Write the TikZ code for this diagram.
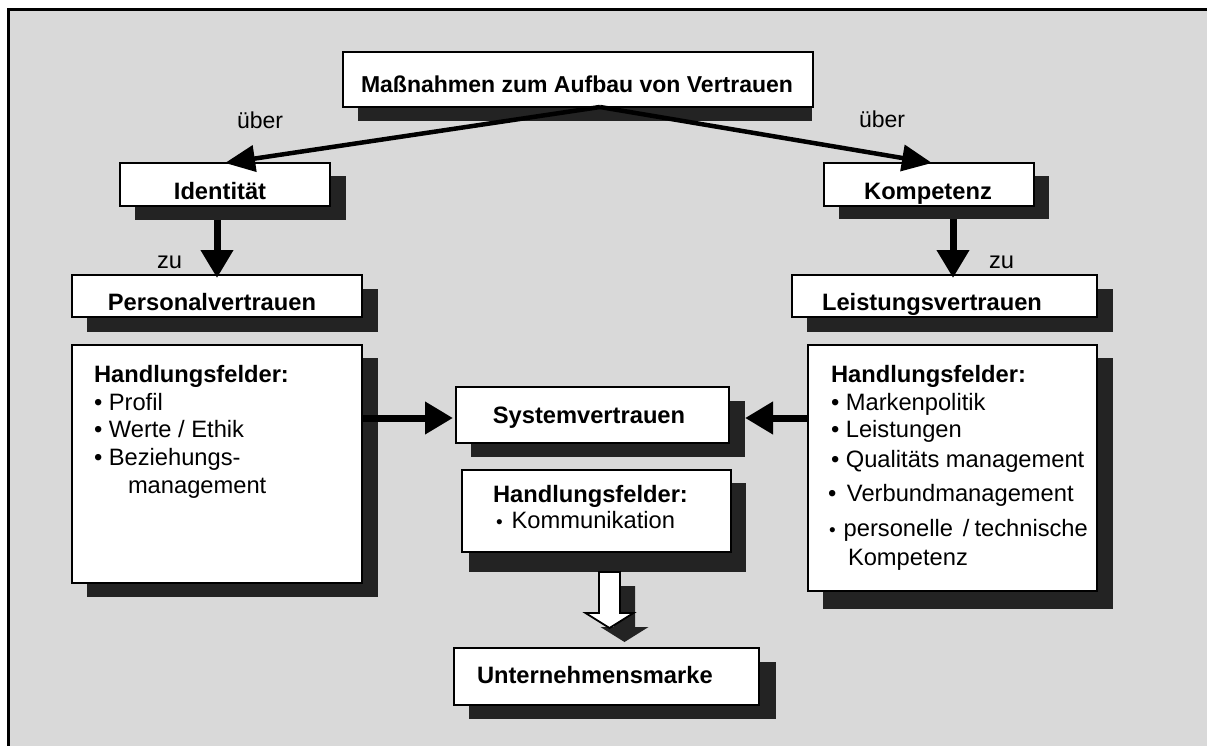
\documentclass[tikz,border=0pt]{standalone}
\usepackage{fontspec}
\setmainfont{Liberation Sans}
\usetikzlibrary{arrows.meta,calc}
\definecolor{bgc}{HTML}{D9D9D9}
\definecolor{shc}{HTML}{232323}
\newcommand\smallbullet{{\fontsize{19}{19}\selectfont •}}
\newcommand\shbox[9]{%
  \node[shadowbox, minimum width={#8-#6}, minimum height={#9-#7}] (#1S) at ({(#6+#8)/2},{(#7+#9)/2}) {};
  \node[box, minimum width={#4-#2}, minimum height={#5-#3}] (#1) at ({(#2+#4)/2},{(#3+#5)/2}) {};}
\tikzset{
  box/.style={draw=black, line width=1.8pt, fill=white, rectangle, inner sep=0pt, outer sep=0pt},
  shadowbox/.style={fill=shc, draw=none, rectangle, inner sep=0pt, outer sep=0pt},
  txt/.style={inner sep=0pt, outer sep=0pt, font=\fontsize{23.7}{27}\selectfont},
  btxt/.style={inner sep=0pt, outer sep=0pt, font=\fontsize{23.7}{27}\selectfont\bfseries},
  thinarrow/.style={line width=4.5pt, -{Triangle[length=30pt,width=26pt]}},
  thickarrow/.style={line width=7pt, -{Triangle[length=28pt,width=31pt]}},
  hollow/.style={draw=black, line width=1.8pt, fill=white, line join=miter},
  hollowshadow/.style={fill=shc, draw=none},
}
\begin{document}
\begin{tikzpicture}[x=1pt,y=-1pt]
\useasboundingbox (0,0) rectangle (1207,746);
\fill[white] (0,0) rectangle (1207,746);
\fill[bgc] (8.7,9.5) rectangle (1207,746);
\draw[line width=2.7pt, line cap=butt] (8.7,746) -- (8.7,9.5) -- (1207,9.5);

% boxes: name, box x1 y1 x2 y2, shadow x1 y1 x2 y2
\shbox{top}{343}{52}{813}{107}{358}{66}{812}{121}
\shbox{ident}{120}{163}{330}{206}{135}{176}{346}{220}
\shbox{komp}{824}{163}{1034}{206}{839}{176}{1049}{219}
\shbox{pers}{72}{275}{362}{317}{87}{289}{378}{332}
\shbox{leist}{792}{275}{1097}{317}{807}{289}{1113}{332}
\shbox{lbox}{72}{345}{362}{583}{87}{358}{378}{597}
\shbox{rbox}{808}{345}{1097}{591}{823}{358}{1113}{609}
\shbox{sys}{456}{387}{729}{443}{471}{401}{745}{457}
\shbox{mid}{462}{470}{731}{552}{469}{483}{746}{572}
\shbox{unter}{454}{648}{759}{705}{469}{662}{776}{719}

% slanted arrows
\coordinate (apex) at ($(top.south)+(22,0)$);
\draw[thinarrow] (apex) -- (ident.north);
\draw[thinarrow] (apex) -- ($(komp.north)+(3,0)$);

% vertical arrows
\coordinate (lv) at ($(pers.north)+(0,3)$);
\draw[thickarrow] (lv |- identS.south) -- (lv);
\coordinate (rv) at ($(leist.north)+(8.5,3)$);
\draw[thickarrow] (rv |- kompS.south) -- (rv);

% horizontal arrows
\coordinate (sl) at ($(sys.west)+(-3,3)$);
\draw[thickarrow] (lbox.east |- sl) -- (sl);
\coordinate (sr) at (sysS.east |- sl);
\draw[thickarrow] (rbox.west |- sl) -- (sr);

% hollow block arrow
\coordinate (ha) at ($(midS.south)+(2,0)$);
\fill[hollowshadow] ($(ha)+(15,14)$) -- ++(-10.5,0) -- ++(0,41) -- ++(-13.5,0) -- ++(24,15) -- ++(24,-15) -- ++(-13.5,0) -- ++(0,-41) -- cycle;
\draw[hollow] (ha) -- ++(-10.5,0) -- ++(0,41) -- ++(-13.5,0) -- ++(24,15) -- ++(24,-15) -- ++(-13.5,0) -- ++(0,-41) -- cycle;

% texts
\node[btxt, anchor=base, font=\fontsize{23}{27}\selectfont\bfseries] (ttop) at (577,93) {Maßnahmen zum Aufbau von Vertrauen};
\node[txt, anchor=base west, font=\fontsize{23}{27}\selectfont] (ueberl) at (237,129) {über};
\node[txt, anchor=base west, font=\fontsize{23}{27}\selectfont] (ueberr) at (859,128) {über};
\node[btxt, anchor=base] (tident) at (220,200) {Identität};
\node[btxt, anchor=base] (tkomp) at (928,200) {Kompetenz};
\node[txt, anchor=base west] (zul) at (157,268) {zu};
\node[txt, anchor=base west] (zur) at (989,268) {zu};
\node[btxt, anchor=base] (tpers) at (212,310) {Personalvertrauen};
\node[btxt, anchor=base] (tleist) at (932,310) {Leistungsvertrauen};

\node[btxt, anchor=base west] (lh) at (94,382) {Handlungsfelder:};
\node[txt, anchor=base west] (l1) at (94,410) {• Profil};
\node[txt, anchor=base west] (l2) at (94,437) {• Werte / Ethik};
\node[txt, anchor=base west] (l3) at (94,465) {• Beziehungs-};
\node[txt, anchor=base west] (l4) at (128,493) {management};

\node[btxt, anchor=base] (tsys) at (589,423) {Systemvertrauen};
\node[btxt, anchor=base west] (mh) at (493,502) {Handlungsfelder:};
\node[txt, anchor=base west] (m1) at (496,528) {\smallbullet\hspace{9pt}Kommunikation};
\node[btxt, anchor=base west] (tunter) at (477,683) {Unternehmensmarke};

\node[btxt, anchor=base west] (rh) at (831,382) {Handlungsfelder:};
\node[txt, anchor=base west] (r1) at (831,410) {• Markenpolitik};
\node[txt, anchor=base west] (r2) at (831,437) {• Leistungen};
\node[txt, anchor=base west] (r3) at (831,467) {• Qualitäts management};
\node[txt, anchor=base west] (r4) at (828,501) {•\hspace{10.7pt}Verbundmanagement};
\node[txt, anchor=base west] (r5) at (829,536) {\smallbullet\hspace{8pt}personelle\hspace{10pt}/\hspace{5pt}technische};
\node[txt, anchor=base west] (r6) at (848,565) {Kompetenz};
\end{tikzpicture}
\end{document}
